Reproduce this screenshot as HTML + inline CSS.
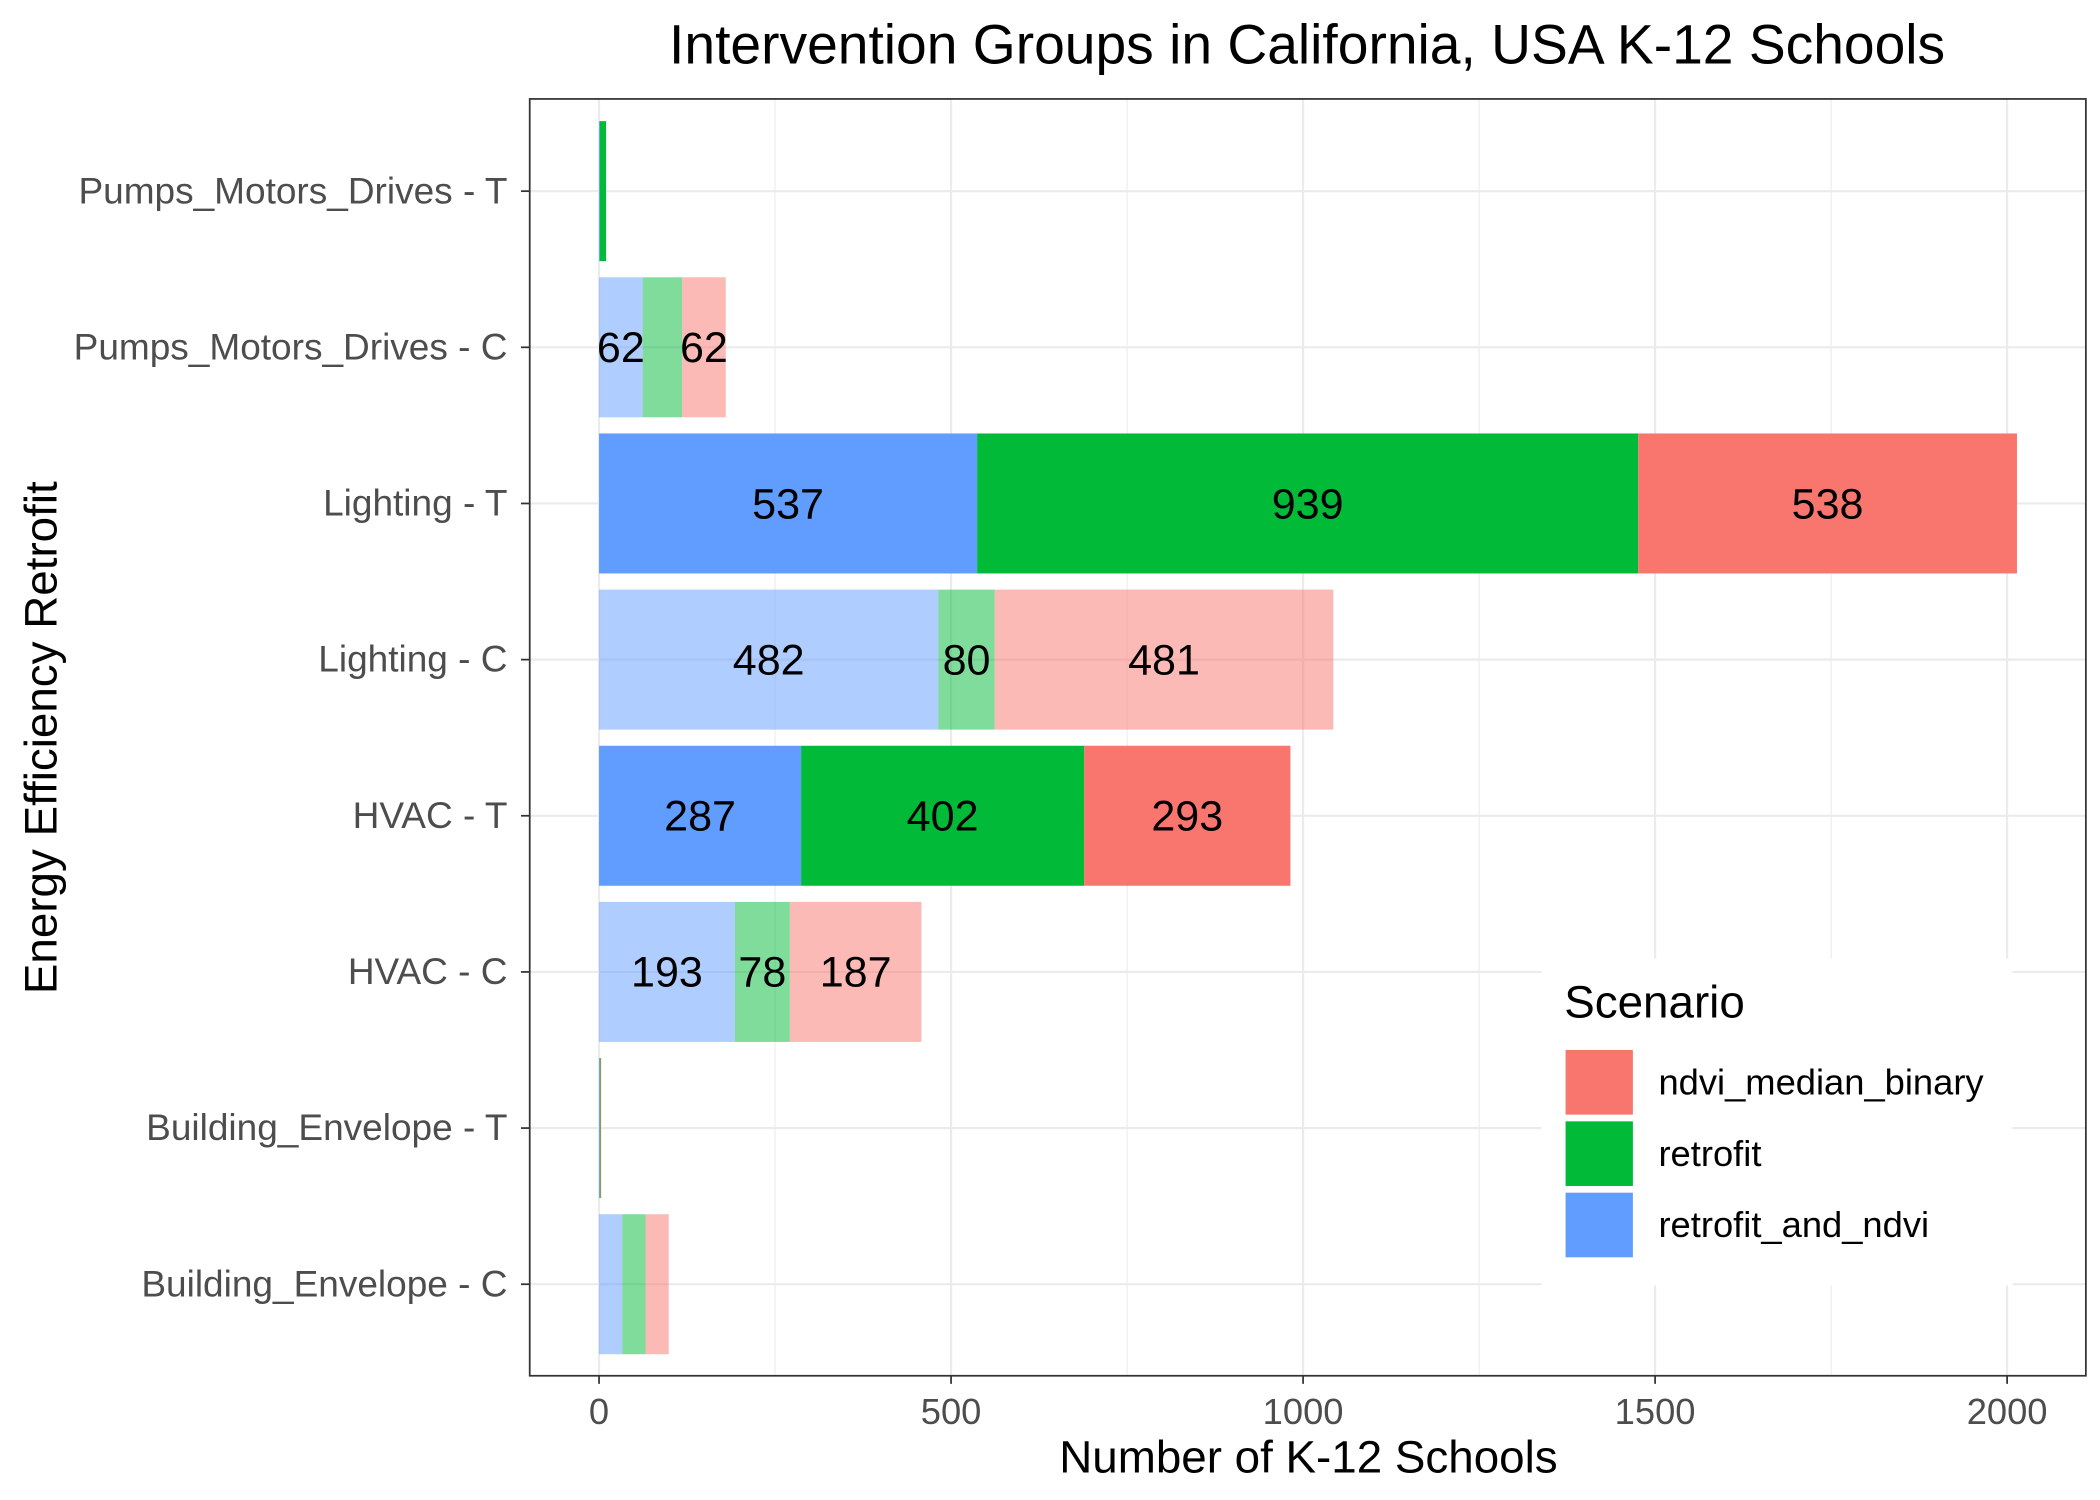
<!DOCTYPE html>
<html><head><meta charset="utf-8"><style>html,body{margin:0;padding:0;background:#fff}svg{display:block}text{font-family:"Liberation Sans",Arial,sans-serif}</style></head>
<body>
<svg id="chart" width="2100" height="1500" viewBox="0 0 1560 1114.29" xmlns="http://www.w3.org/2000/svg">
<rect width="1560" height="1114.29" fill="#fff"/>
<text x="971" y="47" font-size="41" text-anchor="middle" fill="#000">Intervention Groups in California, USA K-12 Schools</text>
<g id="grid"></g>
<g id="bars"></g>
<g id="labels"></g>
<rect x="393.5" y="73.5" width="1156" height="948.5" fill="none" stroke="#333" stroke-width="1.3"/>
<g id="axes"></g>
<text x="972" y="1094" font-size="34" text-anchor="middle" fill="#000">Number of K-12 Schools</text>
<text transform="translate(42,548) rotate(-90)" font-size="34" text-anchor="middle" fill="#000">Energy Efficiency Retrofit</text>
<g>
<rect x="1145" y="712" width="350" height="243" fill="#fff"/>
<text x="1162" y="756" font-size="34" fill="#000">Scenario</text>
<rect x="1163" y="780" width="50" height="48" fill="#F8766D"/>
<text x="1232" y="813" font-size="27" fill="#000">ndvi_median_binary</text>
<rect x="1163" y="833" width="50" height="48" fill="#00BA38"/>
<text x="1232" y="866" font-size="27" fill="#000">retrofit</text>
<rect x="1163" y="886" width="50" height="48" fill="#619CFF"/>
<text x="1232" y="919" font-size="27" fill="#000">retrofit_and_ndvi</text>
</g>
</svg>
<script>
const categories = ["Pumps_Motors_Drives - T","Pumps_Motors_Drives - C","Lighting - T","Lighting - C","HVAC - T","HVAC - C","Building_Envelope - T","Building_Envelope - C"];
const retrofitAndNdvi = [1, 62, 537, 482, 287, 193, 1, 33];
const retrofitOnly = [9, 56, 939, 80, 402, 78, 1, 33];
const ndviMedianBinary = [0, 62, 538, 481, 293, 187, 1, 33];
const xTicks = [0, 500, 1000, 1500, 2000];
const xMinorTicks = [250, 750, 1250, 1750];

const NS = "http://www.w3.org/2000/svg";
const X0 = 445, PXPER = (1491 - 445) / 2000;
const xs = v => X0 + v * PXPER;
const Y0 = 142, STEP = 116, BH = 104;
const ys = i => Y0 + i * STEP;
function mk(tag, attrs, parent) {
  const e = document.createElementNS(NS, tag);
  for (const k in attrs) e.setAttribute(k, attrs[k]);
  parent.appendChild(e);
  return e;
}
const grid = document.getElementById('grid'), bars = document.getElementById('bars'), labels = document.getElementById('labels'), axes = document.getElementById('axes');
xMinorTicks.forEach(t => {
  const l = mk('line', {x1: xs(t), x2: xs(t), y1: 73, y2: 1022, stroke: '#ebebeb', 'stroke-width': 0.8}, grid);
  
  
});
xTicks.forEach(t => {
  const l = mk('line', {x1: xs(t), x2: xs(t), y1: 73, y2: 1022, stroke: '#ebebeb', 'stroke-width': 1.6}, grid);
  
  
  const tk = mk('line', {x1: xs(t), x2: xs(t), y1: 1022, y2: 1028, stroke: '#333', 'stroke-width': 1.3}, axes);
  
  
  const tx = mk('text', {x: xs(t), y: 1058, 'font-size': 27, 'text-anchor': 'middle', fill: '#4d4d4d'}, axes);
  tx.textContent = t;
  
  
});
categories.forEach((c, i) => {
  const y = ys(i);
  const g = mk('line', {x1: 393, x2: 1550, y1: y, y2: y, stroke: '#ebebeb', 'stroke-width': 1.6}, grid);
  
  
  const tk = mk('line', {x1: 387, x2: 393, y1: y, y2: y, stroke: '#333', 'stroke-width': 1.3}, axes);
  
  
  const tx = mk('text', {x: 377, y: y + 9, 'font-size': 27.5, 'text-anchor': 'end', fill: '#4d4d4d'}, axes);
  tx.textContent = c;
  
  
  const isC = c.endsWith('- C');
  const op = isC ? 0.5 : 1;
  const segs = [[retrofitAndNdvi[i], '#619CFF', 'retrofit-and-ndvi'], [retrofitOnly[i], '#00BA38', 'retrofit'], [ndviMedianBinary[i], '#F8766D', 'ndvi-median-binary']];
  let acc = 0;
  segs.forEach(s => {
    const v = s[0];
    if (v > 0) {
      const r = mk('rect', {x: xs(acc), y: y - BH / 2, width: xs(acc + v) - xs(acc), height: BH, fill: s[1], 'fill-opacity': op}, bars);
      
      
      if (v >= 60) {
        const t = mk('text', {x: xs(acc + v / 2), y: y + 11, 'font-size': 32, 'text-anchor': 'middle', fill: '#000'}, labels);
        t.textContent = v;
        
        
      }
    }
    acc += v;
  });
});
</script>
</body></html>
